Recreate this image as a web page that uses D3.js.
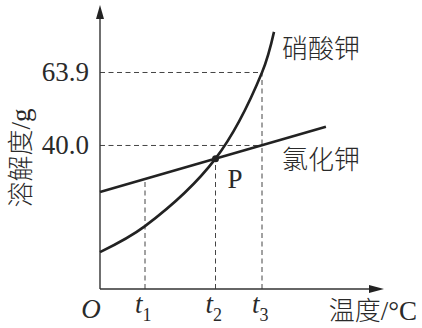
<!DOCTYPE html>
<html>
<head>
<meta charset="utf-8">
<script src="https://cdn.jsdelivr.net/npm/d3@7"></script>
<style>
  body { margin: 0; background: #fff; }
  text { fill: #2a2a2a; }
  .num { font-family: "Liberation Serif", "DejaVu Serif", serif; font-size: 27px; }
  .cn { font-family: "Noto Sans CJK SC", sans-serif; font-size: 26px; font-weight: 300; }
</style>
</head>
<body>
<script>
// data (solubility in g, temperature in arbitrary units)
const yTicks = [40.0, 63.9]
const yTickLabels = ['40.0', '63.9']
const tValues = [15, 38.5, 54]
const tLabels = ['1', '2', '3']
const kno3 = [[0, 5.1], [15, 13.6], [38.5, 35.7], [54, 63.9], [58, 77.2]]
const kcl = [[0, 24.8], [75.3, 46.1]]
const seriesNames = ['硝酸钾', '氯化钾']

const width = 422
const height = 328

const svg = d3.select('body').append('svg')
  .attr('width', width)
  .attr('height', height)

const x = d3.scaleLinear().domain([0, 95]).range([100, 385])
const y = d3.scaleLinear().domain([-7, 86]).range([289, 5])

const x0 = x(0)
const y0 = y(-7)

// dashed guides
const guides = svg.append('g')
  .attr('stroke', '#444')
  .attr('stroke-width', 1)
  .attr('stroke-dasharray', '5,3.5')
  .attr('fill', 'none')

yTicks.forEach(v => {
  guides.append('line')
    .attr('x1', x0).attr('x2', x(tValues[2]))
    .attr('y1', y(v)).attr('y2', y(v))
})

const kclAt = t => kcl[0][1] + (kcl[1][1] - kcl[0][1]) * (t - kcl[0][0]) / (kcl[1][0] - kcl[0][0])
const tops = [kclAt(tValues[0]), kclAt(tValues[1]), yTicks[1]]
tValues.forEach((t, i) => {
  guides.append('line')
    .attr('x1', x(t)).attr('x2', x(t))
    .attr('y1', y0).attr('y2', y(tops[i]))
})

// axes
const axes = svg.append('g').attr('stroke', '#333').attr('stroke-width', 1.4)
axes.append('line').attr('x1', x0).attr('x2', 372).attr('y1', y0).attr('y2', y0)
axes.append('line').attr('x1', x0).attr('x2', x0).attr('y1', y0).attr('y2', 16)
svg.append('path')
  .attr('d', `M${x0},5 L${x0 - 4},19 L${x0 + 4},19 Z`)
  .attr('fill', '#222')
svg.append('path')
  .attr('d', `M384,${y0} L369,${y0 - 4} L369,${y0 + 4} Z`)
  .attr('fill', '#222')

// curves
const line = d3.line()
  .x(d => x(d[0]))
  .y(d => y(d[1]))
  .curve(d3.curveCatmullRom.alpha(0.5))

svg.append('path')
  .attr('d', line(kno3))
  .attr('fill', 'none')
  .attr('stroke', '#222')
  .attr('stroke-width', 2.6)

svg.append('path')
  .attr('d', line(kcl))
  .attr('fill', 'none')
  .attr('stroke', '#222')
  .attr('stroke-width', 2.6)

// intersection P
svg.append('circle')
  .attr('cx', x(tValues[1]))
  .attr('cy', y(kclAt(tValues[1])))
  .attr('r', 3.5)
  .attr('fill', '#222')

svg.append('text')
  .attr('class', 'num')
  .attr('x', x(tValues[1]) + 12)
  .attr('y', y(kclAt(tValues[1])) + 29)
  .text('P')

// series labels
svg.append('text').attr('class', 'cn')
  .attr('x', 282).attr('y', 58)
  .text(seriesNames[0])
svg.append('text').attr('class', 'cn')
  .attr('x', 282).attr('y', 169)
  .text(seriesNames[1])

// y tick labels
svg.selectAll('.ylab')
  .data(yTicks)
  .enter()
  .append('text')
  .attr('class', 'num ylab')
  .attr('x', 89)
  .attr('y', d => y(d) + 9)
  .attr('text-anchor', 'end')
  .attr('font-size', 28)
  .text((d, i) => yTickLabels[i])

// x tick labels
svg.append('text')
  .attr('class', 'num')
  .attr('x', 91).attr('y', 318)
  .attr('text-anchor', 'middle')
  .attr('font-style', 'italic')
  .text('O')

const tl = svg.selectAll('.tlab')
  .data(tValues)
  .enter()
  .append('text')
  .attr('class', 'num tlab')
  .attr('x', d => x(d) - 10)
  .attr('y', 313)
tl.append('tspan').attr('font-style', 'italic').text('t')
tl.append('tspan')
  .attr('font-size', 18)
  .attr('dy', 8)
  .text((d, i) => tLabels[i])

// axis titles
const xt = svg.append('text').attr('x', 417).attr('y', 320).attr('text-anchor', 'end')
xt.append('tspan').attr('class', 'cn').attr('font-size', 24).text('温度')
xt.append('tspan').attr('class', 'num').attr('font-size', 25).text('/°C')

const yt = svg.append('text')
  .attr('transform', 'translate(30,158) rotate(-90)')
  .attr('text-anchor', 'middle')
yt.append('tspan').attr('class', 'cn').text('溶解度')
yt.append('tspan').attr('class', 'num').text('/g')
</script>
</body>
</html>
